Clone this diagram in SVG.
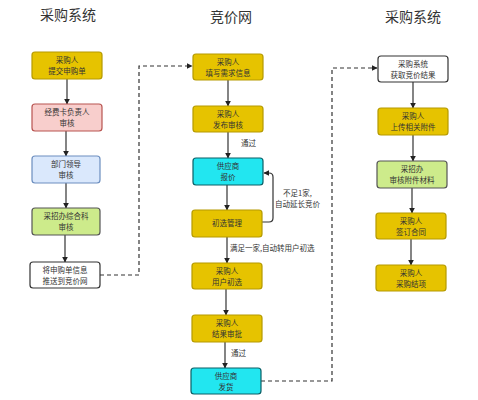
<svg xmlns="http://www.w3.org/2000/svg" width="478" height="400" viewBox="0 0 478 400">
<defs>
<marker id="ah" viewBox="0 0 10 10" refX="9" refY="5" markerWidth="6" markerHeight="6" orient="auto" markerUnits="userSpaceOnUse"><path d="M0,0 L10,5 L0,10 z" fill="#222"/></marker>
<style>
text{font-family:"Noto Sans CJK SC","Noto Sans",sans-serif;fill:#333}
.t{font-size:14px;text-anchor:middle}
.n{font-size:7.5px;text-anchor:middle}
.l{font-size:7.5px}
rect{stroke-width:1.2}
.y{fill:#e6c300;stroke:#b59a00}
.p{fill:#f8cecc;stroke:#b85450}
.b{fill:#dae8fc;stroke:#6c8ebf}
.g{fill:#cdeb8b;stroke:#555}
.w{fill:#fff;stroke:#333}
.c{fill:#22e6f0;stroke:#0b5f66}
.e{fill:none;stroke:#333;stroke-width:1.2}
.d{fill:none;stroke:#333;stroke-width:1.2;stroke-dasharray:4 3}
</style>
</defs>
<rect width="478" height="400" fill="#fff" style="stroke:none"/>
<text class="t" x="68" y="20">采购系统</text>
<text class="t" x="231" y="22">竞价网</text>
<text class="t" x="413" y="22">采购系统</text>

<g id="connectors">
<path class="e" d="M67,79 V104" marker-end="url(#ah)"/>
<path class="e" d="M66,131 V156" marker-end="url(#ah)"/>
<path class="e" d="M66,183 V208" marker-end="url(#ah)"/>
<path class="e" d="M65,235 V262" marker-end="url(#ah)"/>
<path class="d" d="M100,275 H139 V66 H192" marker-end="url(#ah)"/>
<path class="e" d="M228,80 V106" marker-end="url(#ah)"/>
<path class="e" d="M228,132 V158" marker-end="url(#ah)"/>
<path class="e" d="M227,185 V210" marker-end="url(#ah)"/>
<path class="e" d="M262,222 H269 Q273,222 273,218 V177 Q273,173 269,173 H264" marker-end="url(#ah)"/>
<path class="e" d="M227,237 V263" marker-end="url(#ah)"/>
<path class="e" d="M226,289 V315" marker-end="url(#ah)"/>
<path class="e" d="M225,342 V368" marker-end="url(#ah)"/>
<path class="d" d="M261,381 H332 V68 H377" marker-end="url(#ah)"/>
<path class="e" d="M413,82 V108" marker-end="url(#ah)"/>
<path class="e" d="M413,135 V161" marker-end="url(#ah)"/>
<path class="e" d="M412,188 V213" marker-end="url(#ah)"/>
<path class="e" d="M411,239 V265" marker-end="url(#ah)"/>
<text class="l" x="241" y="146">通过</text>
<text class="l" x="283" y="196">不足1家,</text>
<text class="l" x="275" y="207">自动延长竞价</text>
<text class="l" x="230" y="251">满足一家,自动转用户初选</text>
<text class="l" x="231" y="356">通过</text>
</g>

<g id="a1"><rect class="y" x="32" y="52" width="70" height="27" rx="3"/><text class="n" x="67" y="63">采购人</text><text class="n" x="67" y="74">提交申购单</text></g>
<g id="a2"><rect class="p" x="32" y="104" width="70" height="27" rx="3"/><text class="n" x="67" y="115">经费卡负责人</text><text class="n" x="67" y="126">审核</text></g>
<g id="a3"><rect class="b" x="32" y="156" width="68" height="27" rx="3"/><text class="n" x="66" y="167">部门领导</text><text class="n" x="66" y="178">审核</text></g>
<g id="a4"><rect class="g" x="32" y="208" width="68" height="27" rx="3"/><text class="n" x="66" y="219">采招办综合科</text><text class="n" x="66" y="230">审核</text></g>
<g id="a5"><rect class="w" x="30" y="262" width="70" height="26" rx="3"/><text class="n" x="65" y="273">将申购单信息</text><text class="n" x="65" y="284">推送到竞价网</text></g>

<g id="m1"><rect class="y" x="193" y="54" width="70" height="26" rx="3"/><text class="n" x="228" y="65">采购人</text><text class="n" x="228" y="76">填写需求信息</text></g>
<g id="m2"><rect class="y" x="193" y="106" width="70" height="26" rx="3"/><text class="n" x="228" y="117">采购人</text><text class="n" x="228" y="128">发布审核</text></g>
<g id="m3"><rect class="c" x="193" y="158" width="70" height="27" rx="3"/><text class="n" x="228" y="169">供应商</text><text class="n" x="228" y="180">报价</text></g>
<g id="m4"><rect class="y" x="192" y="210" width="70" height="27" rx="3"/><text class="n" x="227" y="226">初选管理</text></g>
<g id="m5"><rect class="y" x="192" y="263" width="70" height="26" rx="3"/><text class="n" x="227" y="274">采购人</text><text class="n" x="227" y="285">用户初选</text></g>
<g id="m6"><rect class="y" x="192" y="315" width="70" height="27" rx="3"/><text class="n" x="227" y="326">采购人</text><text class="n" x="227" y="337">结果审批</text></g>
<g id="m7"><rect class="c" x="191" y="368" width="70" height="26" rx="3"/><text class="n" x="226" y="379">供应商</text><text class="n" x="226" y="390">发货</text></g>

<g id="r1"><rect class="w" x="378" y="56" width="70" height="26" rx="3"/><text class="n" x="413" y="67">采购系统</text><text class="n" x="413" y="78">获取竞价结果</text></g>
<g id="r2"><rect class="y" x="378" y="108" width="70" height="27" rx="3"/><text class="n" x="413" y="119">采购人</text><text class="n" x="413" y="130">上传相关附件</text></g>
<g id="r3"><rect class="g" x="377" y="161" width="70" height="27" rx="3"/><text class="n" x="412" y="172">采招办</text><text class="n" x="412" y="183">审核附件材料</text></g>
<g id="r4"><rect class="y" x="376" y="213" width="70" height="26" rx="3"/><text class="n" x="411" y="224">采购人</text><text class="n" x="411" y="235">签订合同</text></g>
<g id="r5"><rect class="y" x="376" y="265" width="70" height="26" rx="3"/><text class="n" x="411" y="276">采购人</text><text class="n" x="411" y="287">采购结项</text></g>
</svg>
